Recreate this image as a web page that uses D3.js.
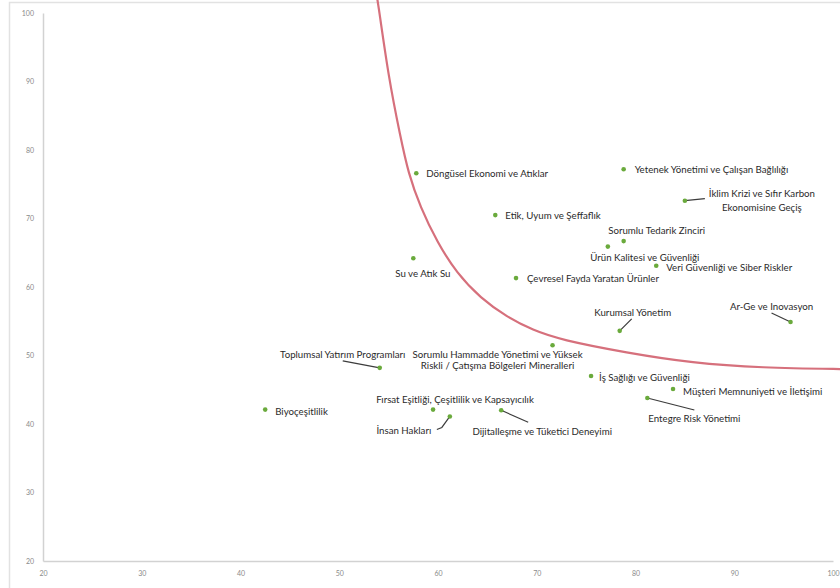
<!DOCTYPE html>
<html>
<head>
<meta charset="utf-8">
<script src="https://cdn.jsdelivr.net/npm/d3@7"></script>
<style>
  html, body { margin: 0; padding: 0; background: #fff; }
  svg { display: block; }
</style>
</head>
<body>
<svg id="chart" width="840" height="588"></svg>
<script>
// ---------- data ----------
const topics = [
  "Döngüsel Ekonomi ve Atıklar",
  "Etik, Uyum ve Şeffaflık",
  "Su ve Atık Su",
  "Çevresel Fayda Yaratan Ürünler",
  "Yetenek Yönetimi ve Çalışan Bağlılığı",
  "İklim Krizi ve Sıfır Karbon|Ekonomisine Geçiş",
  "Sorumlu Tedarik Zinciri",
  "Ürün Kalitesi ve Güvenliği",
  "Veri Güvenliği ve Siber Riskler",
  "Kurumsal Yönetim",
  "Ar-Ge ve Inovasyon",
  "İş Sağlığı ve Güvenliği",
  "Müşteri Memnuniyeti ve İletişimi",
  "Entegre Risk Yönetimi",
  "Toplumsal Yatırım Programları",
  "Sorumlu Hammadde Yönetimi ve Yüksek|Riskli / Çatışma Bölgeleri Mineralleri",
  "Fırsat Eşitliği, Çeşitlilik ve Kapsayıcılık",
  "Biyoçeşitlilik",
  "İnsan Hakları",
  "Dijitalleşme ve Tüketici Deneyimi"
];
const xValues = [57.8, 65.8, 57.5, 67.9, 78.8, 85.0, 78.8, 77.2, 82.1, 78.4,
                 95.7, 75.5, 83.8, 81.2, 54.1, 71.6, 59.5, 42.5, 61.2, 66.4];
const yValues = [76.6, 70.5, 64.2, 61.3, 77.2, 72.6, 66.7, 65.9, 63.1, 53.6,
                 54.9, 47.0, 45.1, 43.8, 48.2, 51.5, 42.1, 42.1, 41.1, 42.0];

// threshold curve
const curveX = [53.5, 53.9, 55.0, 56.2, 57.0, 58.2, 59.9, 61.9, 64.3, 67.0, 69.6, 72.4, 79.1, 85.8, 92.6, 101.5];
const curveY = [105.0, 101.9, 90.5, 81.9, 76.6, 71.7, 66.6, 62.0, 58.4, 55.6, 53.7, 52.3, 50.4, 48.9, 48.2, 48.0];

const xTicks = [20, 30, 40, 50, 60, 70, 80, 90, 100];
const yTicks = [20, 30, 40, 50, 60, 70, 80, 90, 100];

// ---------- label layout (pixel offsets from each point) ----------
const labelLayout = [
  {dx: 10, dy: 0, anchor: "start"},
  {dx: 10, dy: 0, anchor: "start"},
  {dx: -18, dy: 15, anchor: "start"},
  {dx: 11, dy: 0, anchor: "start"},
  {dx: 11, dy: 0, anchor: "start"},
  {dx: 77, dy: -7.5, anchor: "middle", lh: 13.4, leader: [[0,0],[20,-2]]},
  {dx: 33, dy: -11, anchor: "middle"},
  {dx: 37, dy: 10.5, anchor: "middle"},
  {dx: 10, dy: 1.5, anchor: "start"},
  {dx: 13, dy: -19, anchor: "middle", leader: [[0,0],[12,-12]]},
  {dx: -19, dy: -16, anchor: "middle", leader: [[0,0],[-19,-9]]},
  {dx: 8, dy: 1, anchor: "start"},
  {dx: 10, dy: 2, anchor: "start"},
  {dx: 47, dy: 20.5, anchor: "middle", leader: [[0,0],[47,12]]},
  {dx: -37, dy: -14, anchor: "middle", leader: [[0,0],[-37,-7]]},
  {dx: -55, dy: 9, anchor: "middle", lh: 10.8},
  {dx: 22, dy: -11, anchor: "middle"},
  {dx: 10, dy: 1, anchor: "start"},
  {dx: -46, dy: 13.5, anchor: "middle", leader: [[0,0],[-8,11],[-13,13]]},
  {dx: 41, dy: 21, anchor: "middle", leader: [[0,0],[27,12]]}
];

// ---------- chart ----------
const svg = d3.select("#chart");

// outer frame
svg.append("rect")
  .attr("x", 9.5).attr("y", 2.5)
  .attr("width", 860).attr("height", 620)
  .attr("fill", "none").attr("stroke", "#e2e2e2").attr("stroke-width", 1.5);

const x = d3.scaleLinear().domain([20, 100]).range([43, 833]);
const y = d3.scaleLinear().domain([20, 100]).range([561, 13]);

// axes
const yAxis = d3.axisLeft(y).tickValues(yTicks).tickSize(0).tickSizeOuter(0).tickPadding(9);
const xAxis = d3.axisBottom(x).tickValues(xTicks).tickSize(0).tickSizeOuter(0).tickPadding(10);

const gy = svg.append("g").attr("transform", `translate(${x(20)},0)`).call(yAxis);
const gx = svg.append("g").attr("transform", `translate(0,${y(20)})`).call(xAxis);
[gx, gy].forEach(g => {
  g.select(".domain").attr("stroke", "#d2d2d2").attr("stroke-width", 1.5);
  g.selectAll("text")
    .attr("fill", "#8a8a8a")
    .style("font-family", "Lato, 'Open Sans', sans-serif")
    .style("font-size", "7px");
});

// threshold curve
const curvePts = curveX.map((v, i) => [v, curveY[i]]);
svg.append("path")
  .datum(curvePts)
  .attr("d", d3.line().x(d => x(d[0])).y(d => y(d[1])).curve(d3.curveBasis))
  .attr("fill", "none")
  .attr("stroke", "#d6707c")
  .attr("stroke-width", 2.2);

// points data
const pts = topics.map((t, i) => ({name: t, x: xValues[i], y: yValues[i], lay: labelLayout[i]}));

// leader lines
svg.append("g").selectAll("path")
  .data(pts.filter(d => d.lay.leader))
  .join("path")
  .attr("d", d => d3.line()(d.lay.leader.map(p => [x(d.x) + p[0], y(d.y) + p[1]])))
  .attr("fill", "none")
  .attr("stroke", "#3c3c3c")
  .attr("stroke-width", 1.2);

// dots
svg.append("g").selectAll("circle")
  .data(pts)
  .join("circle")
  .attr("cx", d => x(d.x))
  .attr("cy", d => y(d.y))
  .attr("r", 2.3)
  .attr("fill", "#6aaa3c");

// labels
const lbl = svg.append("g")
  .style("font-family", "Lato, 'Open Sans', sans-serif")
  .style("font-size", "9.7px")
  .attr("fill", "#2a2a2a");

pts.forEach(d => {
  const lines = d.name.split("|");
  const t = lbl.append("text")
    .attr("text-anchor", d.lay.anchor)
    .attr("x", x(d.x) + d.lay.dx)
    .attr("y", y(d.y) + d.lay.dy)
    .attr("dominant-baseline", "central");
  lines.forEach((ln, j) => {
    t.append("tspan")
      .attr("x", x(d.x) + d.lay.dx)
      .attr("dy", j === 0 ? 0 : (d.lay.lh || 13))
      .text(ln);
  });
});
</script>
</body>
</html>
